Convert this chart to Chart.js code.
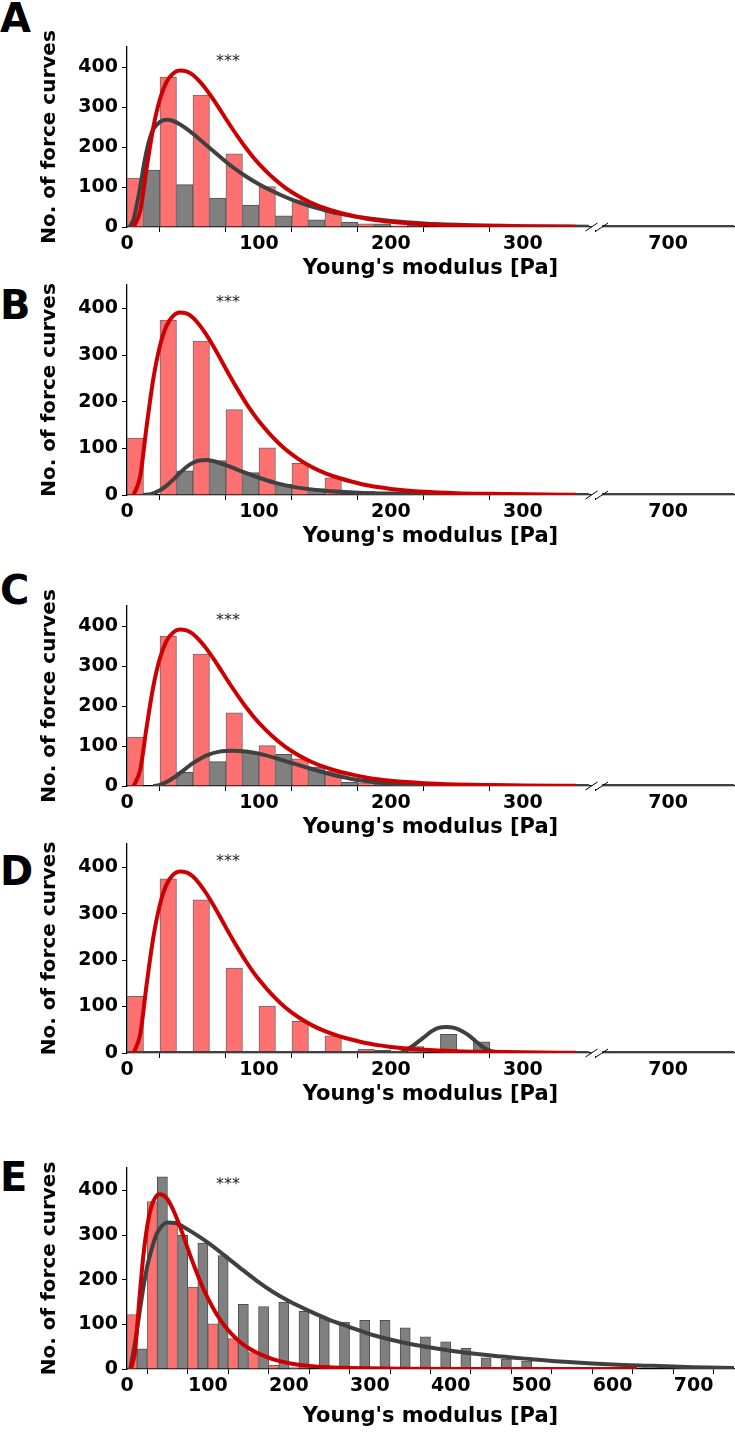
<!DOCTYPE html>
<html lang="en">
<head>
<meta charset="UTF-8">
<title>Young's modulus histograms</title>
<style>
  body { margin: 0; background: #fff; }
  #page { position: relative; width: 735px; height: 1432px; overflow: hidden; }
  canvas { position: absolute; left: 0; }
  .letter { position: absolute; left: 0; font: bold 40px/40px "DejaVu Sans", sans-serif; color: #000; }
</style>
</head>
<body>
<div id="page">
  <div class="letter" style="top:-2px">A</div>
  <div class="letter" style="top:285px">B</div>
  <div class="letter" style="top:570px">C</div>
  <div class="letter" style="top:851px">D</div>
  <div class="letter" style="top:1157px">E</div>
  <canvas id="chartA" width="735" height="264" style="top:17px"></canvas>
  <canvas id="chartB" width="735" height="294" style="top:255px"></canvas>
  <canvas id="chartC" width="735" height="264" style="top:576px"></canvas>
  <canvas id="chartD" width="735" height="293" style="top:814px"></canvas>
  <canvas id="chartE" width="735" height="291" style="top:1138px"></canvas>
</div>

<script src="https://cdn.jsdelivr.net/npm/chart.js"></script>
<script>
// histogram bins (25 Pa wide), value = bin centre
const binCenters = [12.5, 37.5, 62.5, 87.5, 112.5, 137.5, 162.5, 187.5, 212.5, 237.5,
                    262.5, 287.5, 312.5, 337.5, 362.5, 387.5, 412.5, 437.5, 462.5, 487.5];

// control histogram (red), same in every panel
const redCounts = [122, 375, 330, 183, 101, 68, 37, 8, 3, 0, 0, 0, 0, 0, 0, 0, 0, 0, 0, 0];

// treated histograms (grey)
const grayCountsA = [142, 106, 72, 55, 28, 18, 12, 8, 4, 2, 1, 0, 0, 0];
const grayCountsB = [0, 52, 74, 48, 23, 13, 7, 3, 1, 0, 0, 0, 0, 0];
const grayCountsC = [0, 34, 61, 85, 79, 48, 9, 4, 2, 1, 0, 0, 0, 0];
const grayCountsD = [0, 0, 0, 0, 0, 0, 0, 6, 14, 40, 24, 0, 0, 0];
const grayCountsE = [45, 430, 299, 282, 254, 145, 140, 150, 129, 114, 105, 109, 109, 92, 72, 61, 46, 25, 22, 18];

// fitted curves
const redFitX = [5, 10, 15, 20, 25, 30, 35, 40, 45, 50, 55, 60, 65, 70, 75, 80, 85, 90, 95, 100,
                 110, 120, 130, 140, 150, 160, 170, 180, 190, 200, 225, 250, 275, 300, 340, 450, 630];
const redFitY = [0, 40, 150, 250, 320, 363, 384, 391, 389, 380, 364, 344, 321, 296, 270, 245, 221, 198, 177, 158,
                 125, 98, 77, 60, 47, 37, 29, 22, 17, 13, 7, 4, 2.5, 1.5, 0.5, 0.1, 0];

const grayFitAX = [2, 5, 8, 10, 12.5, 15, 17.5, 20, 25, 30, 35, 40, 45, 50, 60, 70, 80, 90, 100, 110,
                   120, 130, 140, 150, 160, 175, 200, 225, 250, 300, 350, 650, 750];
const grayFitAY = [0, 20, 65, 100, 150, 192, 224, 245, 263, 268, 265, 257, 246, 233, 205, 177, 150, 127, 107, 90,
                   75, 62, 51, 42, 34, 25, 15, 9, 5.5, 2, 0.7, 0, 0];

const grayFitBX = [12, 18, 25, 30, 35, 40, 45, 50, 55, 60, 65, 75, 87.5, 100, 112.5, 125, 150, 175, 200, 250,
                   300, 350, 650, 750];
const grayFitBY = [0, 2, 10, 20, 33, 47, 60, 69, 74, 75, 73, 64, 50, 37, 26, 18, 9, 5, 3, 1, 0.4, 0.2, 0, 0];

const grayFitCX = [20, 25, 30, 35, 40, 50, 60, 70, 80, 90, 100, 112.5, 125, 137.5, 150, 162.5, 175, 200, 225,
                   250, 300, 350, 650, 750];
const grayFitCY = [0, 3, 10, 20, 32, 57, 76, 86, 88, 86, 81, 70, 57, 45, 33, 23, 15, 6, 2.5, 1, 0.3, 0, 0, 0];

const grayFitDX = [0, 200, 206, 211, 216, 221, 226, 231, 236, 242, 248, 254, 259, 264, 269, 274, 279, 285,
                   350, 650, 750];
const grayFitDY = [0, 0, 0, 5, 14, 25, 36, 47, 54, 56, 54, 47, 38, 26, 14, 6, 2, 0, 0, 0, 0];

const grayFitEX = [4, 10, 15, 20, 25, 30, 35, 40, 50, 60, 70, 80, 100, 120, 140, 160, 180, 200, 225, 250,
                   275, 300, 325, 350, 375, 400, 450, 500, 550, 600, 650, 700, 750];
const grayFitEY = [0, 60, 120, 180, 230, 265, 295, 313, 328, 327, 318, 307, 283, 255, 226, 198, 173, 152, 130,
                   110, 94, 78, 66, 56, 48, 41, 30, 22, 15, 10, 7, 4, 2];

// axes
const yTicks = [0, 50, 100, 150, 200, 250, 300, 350, 400, 450];
const xTicksBroken = [0, 50, 100, 150, 200, 250, 300, 700];
const xTicksFull = [0, 50, 100, 150, 200, 250, 300, 350, 400, 450, 500, 550, 600, 650, 700];
const signifText = '***';

// broken x axis: 0..352 | 650..750, with a small gap between
const breakLo = 352, breakHi = 650, breakGap = 8;
const toBroken = v => v <= breakLo ? v : v - breakHi + breakLo + breakGap;
const fromBroken = v => v <= breakLo ? v : v + breakHi - breakLo - breakGap;

const RED_BAR = '#ff7070', GRAY_BAR = '#808080';
const RED_LINE = '#cc0000', GRAY_LINE = '#404040';
const FONT = 'DejaVu Sans';

function barPoints(counts, broken) {
    const n = broken ? 14 : counts.length;
    const pts = [];
    for (let i = 0; i < n; i++) {
        pts.push({ x: broken ? toBroken(binCenters[i]) : binCenters[i], y: counts[i] ? counts[i] : null });
    }
    return pts;
}

function curvePoints(xs, ys, broken) {
    const pts = [];
    let gapAdded = false;
    xs.forEach((x, i) => {
        if (broken && x > breakLo && x < breakHi) return;
        if (broken && x >= breakHi && !gapAdded) {
            pts.push({ x: breakLo + breakGap / 2, y: null });
            gapAdded = true;
        }
        pts.push({ x: broken ? toBroken(x) : x, y: ys[i] });
    });
    return pts;
}

const extrasPlugin = {
    id: 'extras',
    afterDraw(chart, args, opts) {
        const { ctx, chartArea, scales } = chart;
        ctx.save();
        ctx.font = '16px "' + FONT + '"';
        ctx.fillStyle = '#222';
        ctx.textAlign = 'center';
        ctx.textBaseline = 'middle';
        ctx.fillText(signifText, chartArea.left + 101, scales.y.getPixelForValue(412));

        if (opts.broken) {
            const x1 = scales.x.getPixelForValue(breakLo);
            const x2 = scales.x.getPixelForValue(breakLo + breakGap);
            const y = chartArea.bottom;
            ctx.fillStyle = '#fff';
            ctx.fillRect(x1, y - 3, x2 - x1, 6);
            ctx.strokeStyle = '#000';
            ctx.lineWidth = 1;
            [x1, x2].forEach(x => {
                ctx.beginPath();
                ctx.moveTo(x - 6, y + 4);
                ctx.lineTo(x + 6, y - 4);
                ctx.stroke();
            });
        }
        ctx.restore();
    }
};

function makeChart(id, grayCounts, grayX, grayY, broken, xHeight) {
    const font = (size, weight) => ({ family: FONT, size: size, weight: weight });
    const xTicks = broken ? xTicksBroken : xTicksFull;

    new Chart(document.getElementById(id), {
        type: 'bar',
        data: {
            datasets: [
                {
                    type: 'line', data: curvePoints(redFitX, redFitY, broken), order: 0,
                    borderColor: RED_LINE, borderWidth: 4, pointRadius: 0, fill: false,
                    cubicInterpolationMode: 'monotone'
                },
                {
                    type: 'line', data: curvePoints(grayX, grayY, broken), order: 1,
                    borderColor: GRAY_LINE, borderWidth: 4, pointRadius: 0, fill: false,
                    cubicInterpolationMode: 'monotone'
                },
                {
                    data: barPoints(redCounts, broken), order: 2,
                    backgroundColor: RED_BAR, borderColor: '#6a6a6a', borderWidth: 1,
                    barPercentage: 1, categoryPercentage: 1
                },
                {
                    data: barPoints(grayCounts, broken), order: 2,
                    backgroundColor: GRAY_BAR, borderColor: '#505050', borderWidth: 1,
                    barPercentage: 1, categoryPercentage: 1
                }
            ]
        },
        options: {
            responsive: false,
            animation: false,
            layout: { padding: { top: 30, left: 38, right: 1, bottom: 0 } },
            plugins: {
                legend: { display: false },
                tooltip: { enabled: false },
                extras: { broken: broken }
            },
            scales: {
                x: {
                    type: 'linear',
                    min: 0,
                    max: broken ? toBroken(750) : 750,
                    offset: false,
                    afterBuildTicks: s => { s.ticks = xTicks.map(v => ({ value: broken ? toBroken(v) : v })); },
                    afterFit: s => { s.height = xHeight; },
                    ticks: {
                        autoSkip: false, maxRotation: 0, padding: 1, color: '#000',
                        font: font(19, 'bold'),
                        callback: v => {
                            const real = broken ? fromBroken(v) : v;
                            return real % 100 === 0 ? String(real) : '';
                        }
                    },
                    grid: { drawOnChartArea: false, tickLength: 5, color: '#000', tickWidth: 1 },
                    border: { color: '#000', width: 1.3 },
                    title: {
                        display: true, text: "Young's modulus [Pa]", color: '#000',
                        font: font(21, 'bold'), padding: { top: 0, bottom: 0 }
                    }
                },
                y: {
                    min: 0,
                    max: 450,
                    afterBuildTicks: s => { s.ticks = yTicks.map(v => ({ value: v })); },
                    afterFit: s => { s.width = 89; },
                    ticks: {
                        padding: 4, color: '#000', font: font(19, 'bold'),
                        callback: v => v % 100 === 0 ? String(v) : ''
                    },
                    grid: { drawOnChartArea: false, tickLength: 5, color: '#000', tickWidth: 1 },
                    border: { color: '#000', width: 1.3 },
                    title: {
                        display: true, text: 'No. of force curves', color: '#000',
                        font: font(20, 'bold'), padding: { top: 0, bottom: 0 }
                    }
                }
            }
        },
        plugins: [extrasPlugin]
    });
}

makeChart('chartA', grayCountsA, grayFitAX, grayFitAY, true, 54);
makeChart('chartB', grayCountsB, grayFitBX, grayFitBY, true, 54);
makeChart('chartC', grayCountsC, grayFitCX, grayFitCY, true, 54);
makeChart('chartD', grayCountsD, grayFitDX, grayFitDY, true, 54);
makeChart('chartE', grayCountsE, grayFitEX, grayFitEY, false, 60);
</script>
</body>
</html>
